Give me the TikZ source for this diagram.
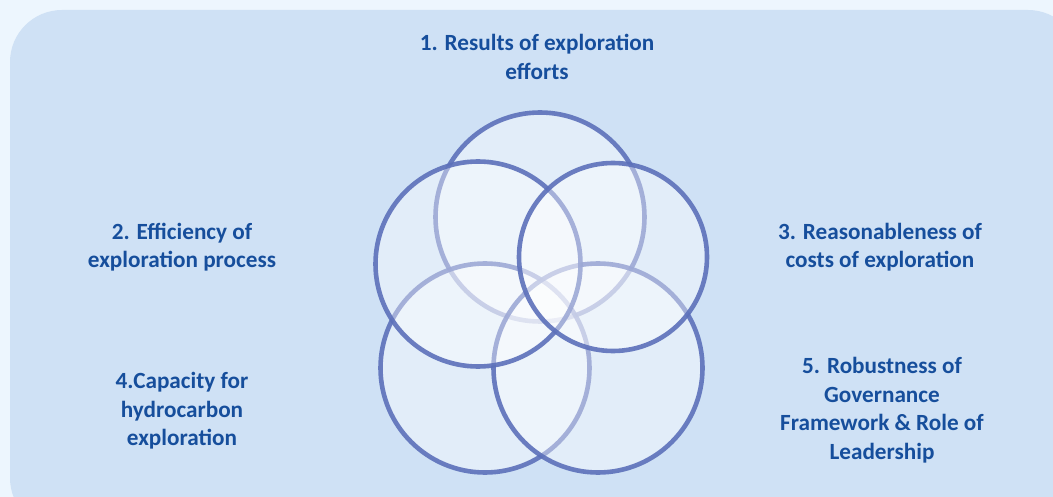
\documentclass[tikz,border=0pt]{standalone}
\usepackage{fontspec}
\setmainfont{Carlito}
\usepackage{tikz}

\definecolor{pagebg}{RGB}{237,246,254}
\definecolor{panelbg}{RGB}{207,225,245}
\definecolor{ringline}{RGB}{92,112,186}
\definecolor{labeltext}{RGB}{22,78,156}

\begin{document}
\begin{tikzpicture}[x=1pt,y=-1pt]
	\tikzset{
		ring/.style={circle,draw=ringline,line width=4.6pt,draw opacity=0.9,fill=white,fill opacity=0.4,inner sep=0pt},
		label/.style={align=center,text=labeltext,font=\bfseries\fontsize{23.2}{28.5}\selectfont}
	}
	\useasboundingbox (0,0) rectangle (1053,497);
	\fill[pagebg] (0,0) rectangle (1053,497);
	\fill[panelbg,rounded corners=52pt] (10,10) rectangle (1080,530);
	\node[ring,minimum size=209pt] (c1) at (540,217) {};
	\node[ring,minimum size=209pt] (c4) at (485,368) {};
	\node[ring,minimum size=209pt] (c5) at (598,368) {};
	\node[ring,minimum size=205pt] (c2) at (478,264) {};
	\node[ring,minimum size=188pt] (c3) at (613,257) {};
	\node[label] (results) at (537,57) {1. Results of exploration\\efforts};
	\node[label] (efficiency) at (182,247) {2. Efficiency of\\exploration process};
	\node[label] (costs) at (880,247) {3. Reasonableness of\\costs of exploration};
	\node[label] (capacity) at (182,411) {4.Capacity for\\hydrocarbon\\exploration};
	\node[label] (governance) at (882,410) {5. Robustness of\\Governance\\Framework \& Role of\\Leadership};
\end{tikzpicture}
\end{document}
